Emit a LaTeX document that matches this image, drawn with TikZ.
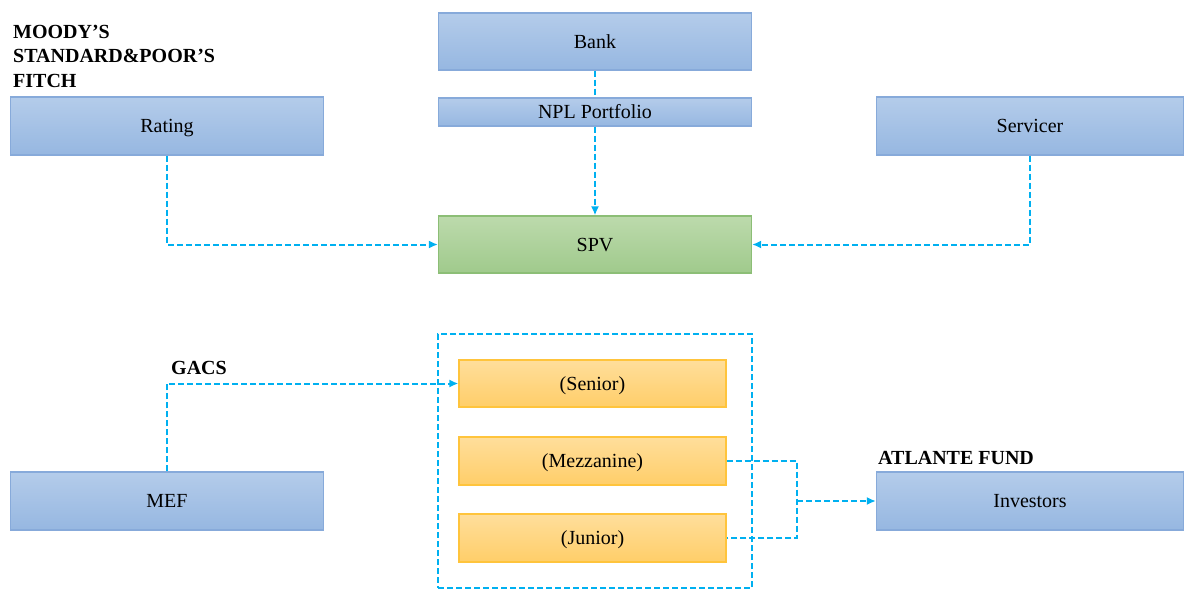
\documentclass[tikz,border=0pt]{standalone}
\usepackage{fontspec}
\setmainfont{Liberation Serif}
\usetikzlibrary{arrows.meta}
\definecolor{linkc}{RGB}{0,176,240}
\definecolor{bluetop}{RGB}{180,204,234}
\definecolor{bluebot}{RGB}{150,183,225}
\definecolor{blueedge}{RGB}{135,170,218}
\definecolor{greentop}{RGB}{188,218,172}
\definecolor{greenbot}{RGB}{160,202,140}
\definecolor{greenedge}{RGB}{140,190,118}
\definecolor{orangetop}{RGB}{255,222,155}
\definecolor{orangebot}{RGB}{255,206,105}
\definecolor{orangeedge}{RGB}{255,196,60}
\tikzset{
  boxtext/.style={inner sep=0pt, text height=15pt, text depth=2pt, font=\fontsize{20}{23}\selectfont},
  bluebox/.style={boxtext, draw=blueedge, line width=1.2pt, top color=bluetop, bottom color=bluebot},
  greenbox/.style={boxtext, draw=greenedge, line width=1.2pt, top color=greentop, bottom color=greenbot},
  tranche/.style={boxtext, draw=orangeedge, line width=1.2pt, top color=orangetop, bottom color=orangebot, minimum width=267pt, minimum height=47pt},
  link/.style={draw=linkc, line width=2pt, dash pattern=on 6pt off 3pt},
  arr/.style={-{Latex[length=9pt,width=8pt]}},
  lbl/.style={anchor=base west, inner sep=0pt, font=\fontsize{20}{23}\selectfont\bfseries}
}
\begin{document}
\begin{tikzpicture}[x=1pt,y=-1pt]
\useasboundingbox (0,0) rectangle (1184,590);
% boxes
\node[bluebox, minimum width=313pt, minimum height=57pt] (bank) at (595,41.5) {Bank};
\node[bluebox, minimum width=313pt, minimum height=28pt] (npl) at (595,112) {NPL Portfolio};
\node[bluebox, minimum width=313pt, minimum height=58pt] (rating) at (167,126) {Rating};
\node[bluebox, minimum width=307pt, minimum height=58pt] (servicer) at (1030,126) {Servicer};
\node[greenbox, minimum width=313pt, minimum height=57pt] (spv) at (595,244.5) {SPV};
\node[link, minimum width=314pt, minimum height=254pt, inner sep=0pt] (group) at (595,461) {};
\node[tranche] (senior) at (592.5,383.5) {(Senior)};
\node[tranche, minimum height=48pt] (mezz) at (592.5,461) {(Mezzanine)};
\node[tranche, minimum height=48pt] (junior) at (592.5,538) {(Junior)};
\node[bluebox, minimum width=313pt, minimum height=58pt] (mef) at (167,501) {MEF};
\node[bluebox, minimum width=307pt, minimum height=58pt] (investors) at (1030,501) {Investors};
% labels
\node[lbl] (moodys) at (13,38) {MOODY’S};
\node[lbl] (sp) at (13,62.5) {STANDARD\&POOR’S};
\node[lbl] (fitch) at (13,87) {FITCH};
\node[lbl] (gacs) at (171,374) {GACS};
\node[lbl] (atlante) at (878,464) {ATLANTE FUND};
% connectors
\draw[link] (bank.south) -- (npl.north);
\draw[link, arr] (npl.south) -- (spv.north);
\draw[link, arr] (rating.south) |- (spv.west);
\draw[link, arr] (servicer.south) |- (spv.east);
\draw[link, arr] (mef.north) |- (senior.west);
\coordinate (jn) at (797,501);
\draw[link] (mezz.east) -| (jn) |- (junior.east);
\draw[link, arr] (jn) -- (investors.west);
\end{tikzpicture}
\end{document}
